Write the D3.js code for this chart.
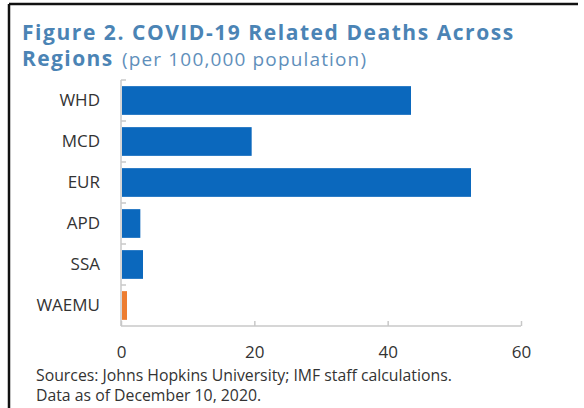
<!DOCTYPE html>
<html>
<head>
<meta charset="utf-8">
<script src="https://cdn.jsdelivr.net/npm/d3@7"></script>
<style>
  body { margin: 0; background: #fff; }
  svg { display: block; font-family: "Open Sans", "Noto Sans", sans-serif; }
</style>
</head>
<body>
<svg id="chart" width="584" height="408"></svg>
<script>
var regions = ["WHD", "MCD", "EUR", "APD", "SSA", "WAEMU"]
var deaths = [43.5, 19.6, 52.5, 2.9, 3.3, 0.9]
var xTicks = [0, 20, 40, 60]
var highlight = "WAEMU"

var svg = d3.select("#chart")

// frame (cropped: only top and left edges show)
svg.append("line").attr("x1", 9).attr("x2", 578).attr("y1", 4).attr("y2", 4)
  .attr("stroke", "#111").attr("stroke-width", 2.5)
svg.append("line").attr("x1", 9).attr("x2", 9).attr("y1", 4).attr("y2", 408)
  .attr("stroke", "#111").attr("stroke-width", 2.5)

// title
svg.append("text").attr("x", 22).attr("y", 40)
  .attr("fill", "#4b84b5").attr("font-weight", "bold").attr("font-size", 21)
  .attr("letter-spacing", 1.55)
  .text("Figure 2. COVID-19 Related Deaths Across")
var sub = svg.append("text").attr("x", 22).attr("y", 66).attr("fill", "#4b84b5")
sub.append("tspan").attr("font-weight", "bold").attr("font-size", 21)
  .attr("letter-spacing", 1.4).text("Regions")
sub.append("tspan").attr("x", 122).attr("font-size", 19).attr("fill", "#5f8fbb")
  .attr("letter-spacing", 1.15).text("(per 100,000 population)")

var x = d3.scaleLinear().domain([0, 60]).range([121, 521])
var y = d3.scaleBand().domain(regions).range([80, 326])
  .paddingInner(0.3).paddingOuter(0.15)

var data = regions.map(function(r, i) { return {region: r, value: deaths[i]} })

svg.selectAll("rect.bar").data(data).enter().append("rect")
  .attr("class", "bar")
  .attr("x", x(0) + 1)
  .attr("y", function(d) { return y(d.region) })
  .attr("width", function(d) { return x(d.value) - x(0) - 1 })
  .attr("height", y.bandwidth())
  .attr("fill", function(d) { return d.region === highlight ? "#ed7d31" : "#0b68bd" })

// x axis
var xAxis = svg.append("g").attr("transform", "translate(0,326)")
  .call(d3.axisBottom(x).tickValues(xTicks).tickSize(-5).tickPadding(20).tickFormat(d3.format("d")))
  .attr("font-family", null)
xAxis.select(".domain").attr("stroke", "#c8c8c8").attr("stroke-width", 1.5)
  .attr("d", "M121,0H521")
xAxis.selectAll(".tick line").attr("stroke", "#c8c8c8").attr("stroke-width", 1.5)
xAxis.selectAll(".tick text").attr("font-size", 17).attr("fill", "#333")

// y axis
var yAxis = svg.append("g").attr("transform", "translate(121,0)")
  .call(d3.axisLeft(y).tickSize(0).tickPadding(21))
  .attr("font-family", null)
yAxis.select(".domain").attr("stroke", "#c8c8c8").attr("stroke-width", 1.5)
  .attr("d", "M0,80V326")
yAxis.selectAll(".tick text").attr("font-size", 17).attr("fill", "#333")

// category separators
var bounds = regions.map(function(r) { return y(r) - y.step() * y.paddingInner() / 2 })
svg.append("g").selectAll("line").data(bounds).enter().append("line")
  .attr("x1", 121).attr("x2", 126)
  .attr("y1", function(d) { return d }).attr("y2", function(d) { return d })
  .attr("stroke", "#c8c8c8").attr("stroke-width", 1.5)

// sources
svg.append("text").attr("x", 36).attr("y", 381).attr("font-size", 15.8).attr("fill", "#333")
  .text("Sources: Johns Hopkins University; IMF staff calculations.")
svg.append("text").attr("x", 36).attr("y", 401).attr("font-size", 15.8).attr("fill", "#333")
  .text("Data as of December 10, 2020.")
</script>
</body>
</html>
